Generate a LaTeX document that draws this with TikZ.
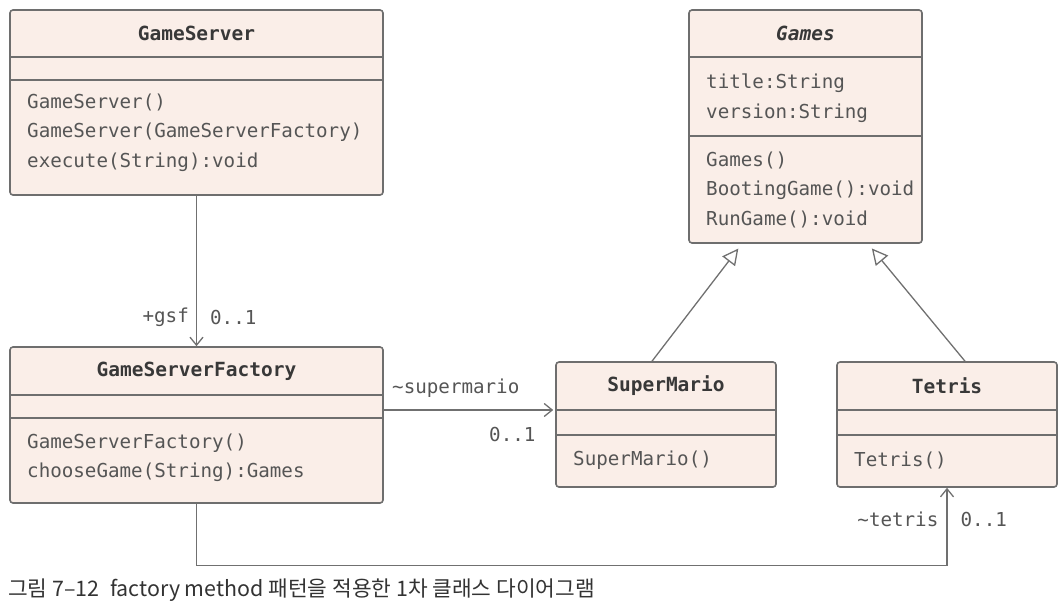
\documentclass[tikz,border=0pt]{standalone}
\usepackage{fontspec}
\setmonofont{DejaVu Sans Mono}
\newfontfamily\krfont{Noto Sans CJK KR}
\usetikzlibrary{arrows.meta, positioning}

\definecolor{boxfill}{HTML}{FAEEE8}
\definecolor{edgegray}{HTML}{6E6E6E}
\definecolor{linegray}{HTML}{707070}
\definecolor{titlegray}{HTML}{383838}
\definecolor{txtgray}{HTML}{555555}
\definecolor{captiongray}{HTML}{333333}

\begin{document}
\begin{tikzpicture}[x=1pt, y=-1pt,
  font={\ttfamily\fontsize{19.2}{29.5}\selectfont},
  cls/.style={draw=edgegray, fill=boxfill, rounded corners=3pt, line width=1.6pt, inner sep=0pt},
  ttl/.style={font={\ttfamily\bfseries\fontsize{19.5}{24}\selectfont}, text=titlegray},
  mbr/.style={align=left, anchor=west, text=txtgray, inner sep=0pt},
  sep/.style={draw=edgegray, line width=1.6pt},
  assoc/.style={draw=linegray, line width=1.3pt, -{Straight Barb[length=8pt, width=13pt]}},
  inherit/.style={draw=linegray, line width=1.3pt, -{Triangle[open, length=16pt, width=16pt, fill=white]}},
  lbl/.style={text=txtgray, inner sep=0pt}
]
  \useasboundingbox (0,0) rectangle (1064,614);

  % GameServer
  \node[cls, minimum width=373pt, minimum height=185pt] (server) at (196.5,102.5) {};
  \draw[sep] (10,57) -- (383,57);
  \draw[sep] (10,80) -- (383,80);
  \node[ttl] (server-t) at (196.5,33) {GameServer};
  \node[mbr] (server-m) at (27,132.5)
    {GameServer()\\GameServer(GameServerFactory)\\execute(String):void};

  % Games (abstract)
  \node[cls, minimum width=233pt, minimum height=233pt] (games) at (805.5,126.5) {};
  \draw[sep] (689,57) -- (922,57);
  \draw[sep] (689,136) -- (922,136);
  \node[ttl, font={\ttfamily\bfseries\itshape\fontsize{19.5}{24}\selectfont}] (games-t) at (805.5,33) {Games};
  \node[mbr] (games-a) at (706,98) {title:String\\version:String};
  \node[mbr] (games-m) at (706,189.5)
    {Games()\\BootingGame():void\\RunGame():void};

  % GameServerFactory
  \node[cls, minimum width=373pt, minimum height=156pt] (factory) at (196.5,425) {};
  \draw[sep] (10,395) -- (383,395);
  \draw[sep] (10,418) -- (383,418);
  \node[ttl] (factory-t) at (196.5,371) {GameServerFactory};
  \node[mbr] (factory-m) at (27,458)
    {GameServerFactory()\\chooseGame(String):Games};

  % SuperMario
  \node[cls, minimum width=220pt, minimum height=125pt] (supermario) at (666,424.5) {};
  \draw[sep] (556,410) -- (776,410);
  \draw[sep] (556,435) -- (776,435);
  \node[ttl] (supermario-t) at (666,386) {SuperMario};
  \node[mbr] (supermario-m) at (573,460) {SuperMario()};

  % Tetris
  \node[cls, minimum width=220pt, minimum height=125pt] (tetris) at (947,424.5) {};
  \draw[sep] (837,410) -- (1057,410);
  \draw[sep] (837,435) -- (1057,435);
  \node[ttl] (tetris-t) at (947,386) {Tetris};
  \node[mbr] (tetris-m) at (854,460) {Tetris()};

  % Associations
  \draw[assoc] (server) -- node[lbl, left=7pt, pos=0.81] {+gsf}
    node[lbl, right=13pt, pos=0.81] {0..1} (factory);
  \draw[assoc, shorten >=2pt] ([yshift=15pt]factory.east) --
    node[lbl, above=12pt, pos=0.42] {\textasciitilde supermario}
    node[lbl, below=17pt, pos=0.75] {0..1}
    ([yshift=15pt]factory.east -| supermario.west);
  \path (tetris.south) ++(0,78) coordinate (tetrisbend);
  \draw[assoc] (factory.south) |- (tetrisbend) --
    node[lbl, left=8pt, pos=0.59] {\textasciitilde tetris}
    node[lbl, right=13pt, pos=0.59] {0..1} (tetris.south);

  % Generalization
  \draw[inherit, shorten >=6pt] ([xshift=-14pt]supermario.north) -- ([xshift=-63.5pt]games.south);
  \draw[inherit, shorten >=6pt] ([xshift=18pt]tetris.north) -- ([xshift=62.5pt]games.south);

  % Caption
  \node[anchor=west, inner sep=0pt, text=captiongray,
    font={\krfont\fontsize{21.4}{24}\selectfont}] (caption) at (8,590)
    {그림 7–12\enspace factory method 패턴을 적용한 1차 클래스 다이어그램};
\end{tikzpicture}
\end{document}
